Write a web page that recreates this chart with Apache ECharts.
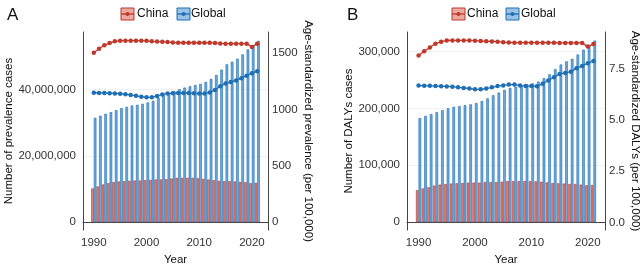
<!DOCTYPE html>
<html><head><meta charset="utf-8">
<script src="https://cdn.jsdelivr.net/npm/echarts@6/dist/echarts.min.js"></script>
<style>html,body{margin:0;padding:0;background:#fff}#c{width:644px;height:271px}</style>
</head><body><div id="c"></div>
<script>
const years = [1990,1991,1992,1993,1994,1995,1996,1997,1998,1999,2000,2001,2002,2003,2004,2005,2006,2007,2008,2009,2010,2011,2012,2013,2014,2015,2016,2017,2018,2019,2020,2021];
// Panel A: prevalence
const prevCasesChina = [10.2e6,10.8e6,11.4e6,11.8e6,12.1e6,12.3e6,12.35e6,12.5e6,12.6e6,12.6e6,12.7e6,12.8e6,12.9e6,12.9e6,13.0e6,13.2e6,13.4e6,13.4e6,13.4e6,13.4e6,13.3e6,13.1e6,12.9e6,12.7e6,12.5e6,12.4e6,12.4e6,12.3e6,12.2e6,12.1e6,11.8e6,11.9e6];
const prevCasesGlobal = [31.5e6,32.1e6,32.7e6,33.2e6,33.8e6,34.4e6,34.8e6,35.2e6,35.4e6,35.7e6,36.1e6,36.6e6,37.6e6,38.3e6,39.0e6,39.5e6,40.1e6,40.6e6,41.0e6,41.4e6,41.7e6,42.3e6,43.2e6,44.4e6,46.0e6,47.6e6,48.4e6,49.3e6,50.6e6,52.1e6,53.2e6,54.7e6];
const prevRateChina = [1501,1536,1567,1588,1602,1608,1608,1608,1608,1608,1607,1602,1600,1598,1596,1592,1590,1590,1590,1590,1590,1590,1589,1588,1584,1582,1582,1582,1582,1582,1553,1582];
const prevRateGlobal = [1147,1146,1145,1143,1141,1138,1134,1128,1120,1112,1107,1108,1118,1132,1140,1143,1145,1145,1144,1142,1140,1140,1150,1172,1205,1228,1242,1256,1276,1298,1320,1338];
// Panel B: DALYs
const dalyCasesChina = [56.5e3,59.4e3,61.6e3,64.5e3,66.2e3,67.3e3,68.0e3,68.5e3,69.0e3,69.6e3,69.6e3,69.6e3,70.7e3,70.7e3,70.7e3,71.3e3,72.4e3,72.4e3,72.4e3,72.4e3,72.4e3,71.8e3,71.3e3,70.2e3,69.0e3,68.5e3,68.0e3,67.3e3,67.3e3,66.2e3,65.0e3,65.5e3];
const dalyCasesGlobal = [183e3,186.6e3,190e3,193.5e3,197e3,200e3,202.6e3,204e3,205.5e3,207e3,209.4e3,212.8e3,217.5e3,223e3,227.7e3,232.4e3,235.8e3,238e3,240e3,242e3,243.7e3,247e3,252.9e3,259.8e3,268.8e3,277e3,282.5e3,287e3,294.5e3,303e3,310e3,319e3];
const dalyRateChina = [8.14,8.34,8.53,8.71,8.80,8.87,8.87,8.87,8.87,8.87,8.86,8.84,8.83,8.82,8.81,8.78,8.77,8.76,8.76,8.76,8.76,8.76,8.76,8.76,8.76,8.75,8.75,8.75,8.75,8.75,8.57,8.69];
const dalyRateGlobal = [6.68,6.66,6.66,6.65,6.64,6.63,6.62,6.59,6.56,6.53,6.49,6.49,6.53,6.59,6.65,6.68,6.72,6.72,6.68,6.65,6.65,6.64,6.76,6.92,7.08,7.24,7.29,7.35,7.51,7.63,7.76,7.87];
const yearTicks = [1990,2000,2010,2020];
const prevLeftTicks = [0,20000000,40000000];
const prevRightTicks = [0,500,1000,1500];
const dalyLeftTicks = [0,100000,200000,300000];
const dalyRightTicks = [0,2.5,5.0,7.5];

const RED = '#c0392b', RED_FILL = '#e07b70', BLUE = '#1f6fb4', BLUE_FILL = '#6ea8da';
const FONT = '"Liberation Sans", Arial, Helvetica, sans-serif';
const pairs = v => years.map((y,i)=>[y, v[i]]);
const comma = v => String(v).replace(/\B(?=(\d{3})+(?!\d))/g, ',');

function xAxis(gi){
  return {type:'value', gridIndex:gi, min:1987.95, max:2023.05, name:'Year', nameLocation:'middle', nameGap:22,
    nameTextStyle:{fontFamily:FONT, fontSize:11.5, color:'#111'},
    axisLine:{show:true, lineStyle:{color:'#444', width:1}}, axisTick:{show:false, customValues:yearTicks},
    splitLine:{show:false},
    axisLabel:{customValues:yearTicks, fontFamily:FONT, fontSize:11.5, color:'#333', margin:7, formatter:v=>String(v)}};
}
function yLeft(gi, min, max, ticks, name, gap){
  return {type:'value', gridIndex:gi, position:'left', min:min, max:max, name:name, nameLocation:'middle', nameGap:gap,
    nameTextStyle:{fontFamily:FONT, fontSize:11.5, color:'#111'},
    axisLine:{show:true, lineStyle:{color:'#444', width:1}}, axisTick:{show:false, customValues:ticks},
    splitLine:{show:true, lineStyle:{color:'#ececec', width:0.8}},
    axisLabel:{customValues:ticks, fontFamily:FONT, fontSize:11.5, color:'#333', margin:7, formatter:comma}};
}
function yRight(gi, min, max, ticks, name, gap, fmt){
  return {type:'value', gridIndex:gi, position:'right', min:min, max:max, name:name, nameLocation:'middle', nameGap:gap, nameRotate:-90,
    nameTextStyle:{fontFamily:FONT, fontSize:11.5, color:'#111'},
    axisLine:{show:true, lineStyle:{color:'#444', width:1}}, axisTick:{show:false, customValues:ticks},
    splitLine:{show:false},
    axisLabel:{customValues:ticks, fontFamily:FONT, fontSize:11.5, color:'#333', margin:4, formatter:fmt}};
}
function bar(name, xi, yi, data, fill, stroke){
  return {type:'bar', name:name, xAxisIndex:xi, yAxisIndex:yi, data:pairs(data), barWidth:2.6, barGap:'0%',
    itemStyle:{color:fill, borderColor:stroke, borderWidth:0.6}, z:2};
}
function line(name, xi, yi, data, color){
  return {type:'line', name:name, xAxisIndex:xi, yAxisIndex:yi, data:pairs(data), symbol:'circle', symbolSize:4.5,
    showAllSymbol:true, lineStyle:{color:color, width:1.3}, itemStyle:{color:color}, z:5};
}
function legend(x0, xText1, x1, xText2){
  const items = [];
  const key = (x, stroke, fill) => {
    items.push({type:'rect', shape:{x:x, y:8, width:13, height:12}, style:{fill:fill, stroke:stroke, lineWidth:1}});
    items.push({type:'line', shape:{x1:x, y1:14, x2:x+13, y2:14}, style:{stroke:stroke, lineWidth:1.3}});
    items.push({type:'circle', shape:{cx:x+6.5, cy:14, r:2}, style:{fill:stroke}});
  };
  key(x0, RED, 'rgba(224,123,112,0.65)');
  items.push({type:'text', x:xText1, y:14, style:{text:'China', font:'12px '+FONT, fill:'#111', verticalAlign:'middle'}});
  key(x1, BLUE, 'rgba(110,168,218,0.7)');
  items.push({type:'text', x:xText2, y:14, style:{text:'Global', font:'12px '+FONT, fill:'#111', verticalAlign:'middle'}});
  return items;
}

const chart = echarts.init(document.getElementById('c'), null, {renderer:'canvas'});
chart.setOption({
  animation:false,
  grid:[{left:83, right:376, top:32, bottom:36}, {left:407, right:39, top:32, bottom:36}],
  xAxis:[xAxis(0), xAxis(1)],
  yAxis:[
    yLeft(0, -2350000, 57350000, prevLeftTicks, 'Number of prevalence cases', 67),
    yRight(0, -69, 1685, prevRightTicks, 'Age-standardized prevalence (per 100,000)', 34, v=>String(v)),
    yLeft(1, -13700, 334000, dalyLeftTicks, 'Number of DALYs cases', 51),
    yRight(1, -0.36, 9.28, dalyRightTicks, 'Age-standardized DALYs (per 100,000)', 18, v=>v.toFixed(1))
  ],
  series:[
    bar('China', 0, 0, prevCasesChina, RED_FILL, RED),
    bar('Global', 0, 0, prevCasesGlobal, BLUE_FILL, BLUE),
    line('China', 0, 1, prevRateChina, RED),
    line('Global', 0, 1, prevRateGlobal, BLUE),
    bar('China', 1, 2, dalyCasesChina, RED_FILL, RED),
    bar('Global', 1, 2, dalyCasesGlobal, BLUE_FILL, BLUE),
    line('China', 1, 3, dalyRateChina, RED),
    line('Global', 1, 3, dalyRateGlobal, BLUE)
  ],
  graphic:[
    {type:'text', x:7, y:15, style:{text:'A', font:'17px '+FONT, fill:'#111', verticalAlign:'middle'}},
    {type:'text', x:347, y:15, style:{text:'B', font:'17px '+FONT, fill:'#111', verticalAlign:'middle'}}
  ].concat(legend(121, 137, 177, 191)).concat(legend(452, 467, 506, 521))
});
</script></body></html>
